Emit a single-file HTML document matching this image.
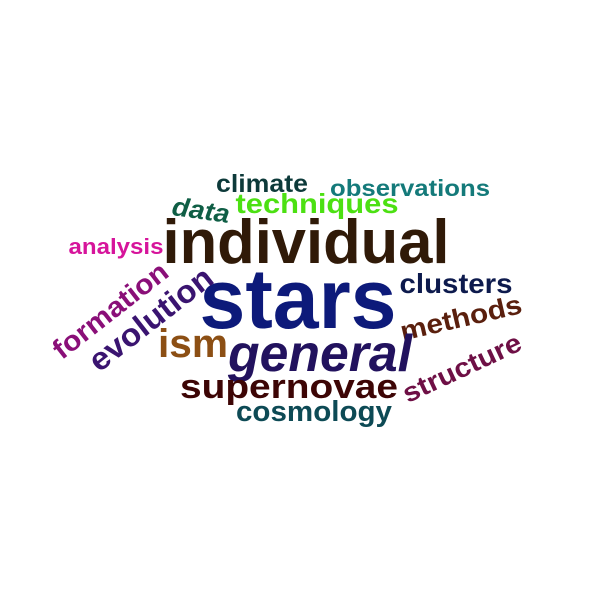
<!DOCTYPE html>
<html><head><meta charset="utf-8"><style>
html,body{margin:0;padding:0;background:#fff;overflow:hidden}
svg{display:block}
svg text{font-family:"Liberation Sans",Arial,sans-serif;font-weight:bold}
</style></head><body>
<svg width="600" height="612" viewBox="0 0 600 612">
<text x="262" y="192" font-size="25" fill="#0d3a3a" text-anchor="middle" textLength="92" lengthAdjust="spacingAndGlyphs">climate</text>
<text x="410" y="196" font-size="23" fill="#147a7a" text-anchor="middle" textLength="160" lengthAdjust="spacingAndGlyphs">observations</text>
<text x="201" y="219" font-size="26" fill="#0f5e45" text-anchor="middle" font-style="italic" transform="rotate(8 201 210)" textLength="58" lengthAdjust="spacingAndGlyphs">data</text>
<text x="317" y="213" font-size="28" fill="#4ce012" text-anchor="middle" textLength="163" lengthAdjust="spacingAndGlyphs">techniques</text>
<text x="306" y="263" font-size="62" fill="#301a08" text-anchor="middle" textLength="287" lengthAdjust="spacingAndGlyphs">individual</text>
<text x="116" y="254" font-size="22" fill="#d6149b" text-anchor="middle" textLength="95" lengthAdjust="spacingAndGlyphs">analysis</text>
<text x="298" y="328" font-size="84" fill="#0d1a7a" text-anchor="middle" textLength="197" lengthAdjust="spacingAndGlyphs">stars</text>
<text x="456" y="293" font-size="28" fill="#0d1a4d" text-anchor="middle" textLength="113" lengthAdjust="spacingAndGlyphs">clusters</text>
<text x="461" y="327" font-size="27" fill="#5a1f0d" text-anchor="middle" transform="rotate(-13 461 318)" textLength="124" lengthAdjust="spacingAndGlyphs">methods</text>
<text x="462" y="377" font-size="27" fill="#6e0f45" text-anchor="middle" transform="rotate(-25 462 368)" textLength="128" lengthAdjust="spacingAndGlyphs">structure</text>
<text x="110" y="320" font-size="28" fill="#8a0f78" text-anchor="middle" transform="rotate(-38 110 310)" textLength="138" lengthAdjust="spacingAndGlyphs">formation</text>
<text x="150" y="330" font-size="32" fill="#3a1470" text-anchor="middle" transform="rotate(-38 150 318)" textLength="148" lengthAdjust="spacingAndGlyphs">evolution</text>
<text x="193" y="357" font-size="40" fill="#8c4f14" text-anchor="middle" textLength="70" lengthAdjust="spacingAndGlyphs">ism</text>
<text x="320" y="371" font-size="52" fill="#22125e" text-anchor="middle" font-style="italic" textLength="184" lengthAdjust="spacingAndGlyphs">general</text>
<text x="289" y="398" font-size="34" fill="#3d0505" text-anchor="middle" textLength="218" lengthAdjust="spacingAndGlyphs">supernovae</text>
<text x="314" y="421" font-size="29" fill="#0d4a55" text-anchor="middle" textLength="156" lengthAdjust="spacingAndGlyphs">cosmology</text>
</svg>
</body></html>
